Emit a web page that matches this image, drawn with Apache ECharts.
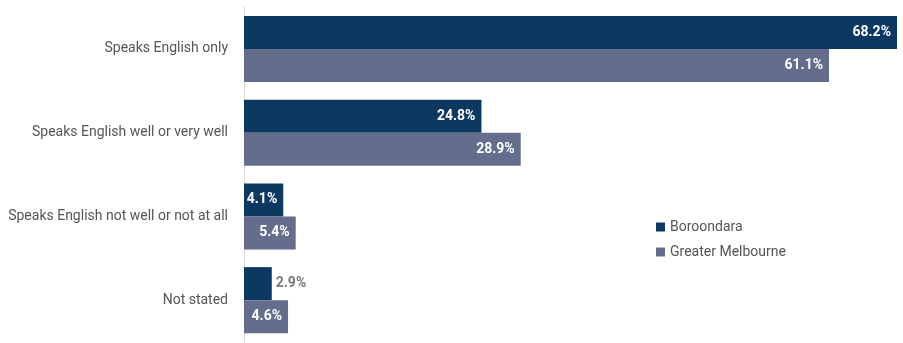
<!DOCTYPE html>
<html>
<head>
<meta charset="utf-8">
<script src="https://cdn.jsdelivr.net/npm/echarts@6/dist/echarts.min.js"></script>
<style>
  html, body { margin: 0; padding: 0; background: #fff; }
  #chart { width: 903px; height: 343px; }
</style>
</head>
<body>
<div id="chart"></div>
<script>
// Proficiency in spoken English, share of population (%)
const categories = [
  'Speaks English only',
  'Speaks English well or very well',
  'Speaks English not well or not at all',
  'Not stated'
];
const boroondara = [68.2, 24.8, 4.1, 2.9];
const greaterMelbourne = [61.1, 28.9, 5.4, 4.6];
const seriesNames = ['Boroondara', 'Greater Melbourne'];

const COLORS = ['#0d3861', '#646d8c'];
const FONT = 'Roboto';

// Small bars cannot hold their label: place those outside in grey
function labelled(values, minInside) {
  return values.map(v => v < minInside
    ? { value: v, label: { position: 'right', color: '#7a7a7a', distance: 4 } }
    : v);
}

const valueLabel = {
  show: true,
  position: 'insideRight',
  distance: 6,
  color: '#fff',
  fontWeight: 'bold',
  fontSize: 14,
  fontFamily: FONT,
  formatter: p => p.value.toFixed(1) + '%'
};

const chart = echarts.init(document.getElementById('chart'), null, { renderer: 'canvas' });
chart.setOption({
  animation: false,
  textStyle: { fontFamily: FONT },
  grid: { left: 244, right: 6, top: 7, bottom: 1, containLabel: false },
  legend: {
    orient: 'vertical',
    left: 651,
    top: 215,
    itemWidth: 9,
    itemHeight: 9,
    itemGap: 11,
    icon: 'rect',
    textStyle: { fontFamily: FONT, fontSize: 14, color: '#555' },
    data: seriesNames
  },
  xAxis: {
    type: 'value',
    min: 0,
    max: 68.2,
    show: false
  },
  yAxis: {
    type: 'category',
    inverse: true,
    data: categories,
    axisLine: { show: true, lineStyle: { color: '#d9d9d9', width: 1 } },
    axisTick: { show: false },
    axisLabel: { fontFamily: FONT, fontSize: 14, color: '#555', margin: 16 }
  },
  series: [
    {
      name: seriesNames[0],
      type: 'bar',
      data: labelled(boroondara, 3.5),
      itemStyle: { color: COLORS[0] },
      barWidth: 33,
      barGap: '0%',
      label: valueLabel
    },
    {
      name: seriesNames[1],
      type: 'bar',
      data: greaterMelbourne,
      itemStyle: { color: COLORS[1] },
      barWidth: 33,
      barGap: '0%',
      label: valueLabel
    }
  ]
});
</script>
</body>
</html>
